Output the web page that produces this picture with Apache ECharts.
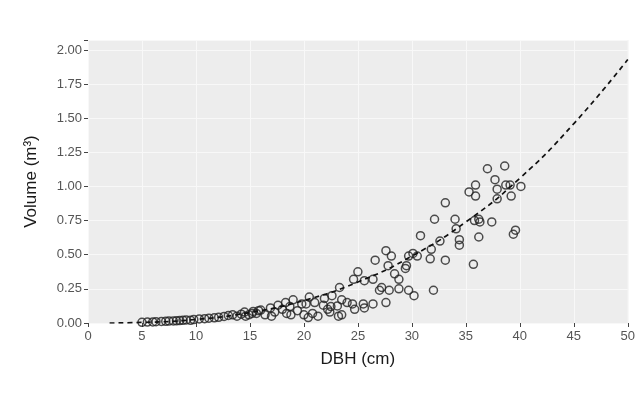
<!DOCTYPE html>
<html><head><meta charset="utf-8">
<script src="https://cdn.jsdelivr.net/npm/echarts@6/dist/echarts.min.js"></script>
<style>html,body{margin:0;padding:0;background:#fff}#c{width:638px;height:398px}</style>
</head><body><div id="c"></div>
<script>
// Observed trees: DBH (cm)
const treeDbh = [
 5.0,5.5,6.0,6.3,6.8,7.2,7.5,7.9,8.2,8.5,8.8,9.1,9.5,9.8,10.3,10.8,11.2,11.7,12.1,12.6,13.0,13.4,13.8,14.2,14.5,14.9,15.3,15.6,16.0,
 14.6,15.2,15.8,16.4,16.9,17.3,17.6,18.0,18.3,18.7,19.0,19.4,19.8,20.5,21.3,17.0,18.4,20.0,
 23.3,21.9,22.6,20.2,21.0,21.8,22.2,23.1,24.0,20.8,22.5,22.4,23.2,18.8,20.4,
 25.0,24.6,25.6,26.4,27.0,28.8,26.4,25.5,24.5,24.7,25.6,23.5,23.5,26.6,
 37.0,38.6,37.7,35.9,35.3,35.9,37.9,38.7,39.1,40.1,39.2,37.9,33.1,32.1,34.0,34.1,35.8,36.2,36.3,37.4,
 39.6,39.4,30.8,34.4,34.4,36.2,32.6,31.8,31.7,33.1,35.7,27.6,28.1,29.7,30.1,30.5,27.8,29.5,29.4,28.4,
 28.8,27.2,27.9,29.7,30.2,32.0,27.6
];
// Observed trees: volume (m3)
const treeVol = [
 0.005,0.007,0.008,0.010,0.011,0.012,0.014,0.015,0.016,0.018,0.020,0.022,0.020,0.025,0.030,0.032,0.035,0.038,0.042,0.048,0.055,0.060,0.050,0.065,0.080,0.060,0.085,0.070,0.095,
 0.05,0.07,0.09,0.06,0.11,0.08,0.13,0.10,0.15,0.12,0.17,0.09,0.14,0.19,0.05,0.05,0.07,0.06,
 0.26,0.18,0.20,0.14,0.15,0.13,0.10,0.125,0.15,0.07,0.12,0.08,0.05,0.06,0.04,
 0.375,0.32,0.31,0.32,0.24,0.25,0.14,0.14,0.14,0.10,0.11,0.17,0.06,0.46,
 1.13,1.15,1.05,1.01,0.96,0.93,0.98,1.01,1.01,1.00,0.93,0.91,0.88,0.76,0.76,0.69,0.75,0.76,0.74,0.74,
 0.68,0.65,0.64,0.61,0.57,0.63,0.60,0.54,0.47,0.46,0.43,0.53,0.49,0.49,0.51,0.49,0.42,0.42,0.40,0.36,
 0.32,0.26,0.24,0.24,0.20,0.24,0.15
];
// Fitted curve
const fitDbh = [2,5,10,15,20,25,30,35,40,45,50];
const fitVol = [0.0,0.004,0.026,0.077,0.165,0.30,0.49,0.74,1.06,1.46,1.93];
const yTicks = ['0.00','0.25','0.50','0.75','1.00','1.25','1.50','1.75','2.00'];

const chart = echarts.init(document.getElementById('c'));
const FONT = 'Liberation Sans, Arial, sans-serif';
chart.setOption({
  animation:false,
  backgroundColor:'#ffffff',
  grid:{left:88,right:8,top:40,bottom:75,show:true,backgroundColor:'#ededed',borderWidth:0},
  xAxis:{type:'value',min:0,max:50,interval:5,
    name:'DBH (cm)',nameLocation:'middle',nameGap:28,
    nameTextStyle:{fontFamily:FONT,fontSize:17,color:'#1a1a1a'},
    axisLine:{show:false},
    axisTick:{show:true,length:4,lineStyle:{color:'#444'}},
    axisLabel:{fontFamily:FONT,fontSize:13,color:'#555',margin:7},
    splitLine:{show:true,lineStyle:{color:'#f8f8f8',width:1}}},
  yAxis:{type:'value',min:0,max:2.073,interval:0.25,
    name:'Volume (m³)',nameLocation:'middle',nameGap:48,
    nameTextStyle:{fontFamily:FONT,fontSize:17,color:'#1a1a1a'},
    axisLine:{show:false},
    axisTick:{show:true,length:4,lineStyle:{color:'#444'}},
    axisLabel:{fontFamily:FONT,fontSize:13,color:'#555',margin:6,
      formatter:function(v){const i=Math.round(v/0.25);return Math.abs(v-i*0.25)<1e-6&&i<yTicks.length?yTicks[i]:'';}},
    splitLine:{show:true,lineStyle:{color:'#f8f8f8',width:1}}},
  series:[
    {type:'scatter',data:treeDbh.map((d,i)=>[d,treeVol[i]]),symbol:'circle',symbolSize:8,
     itemStyle:{color:'rgba(0,0,0,0)',borderColor:'#222',borderWidth:1.5},z:3},
    {type:'line',data:fitDbh.map((d,i)=>[d,fitVol[i]]),smooth:true,showSymbol:false,
     lineStyle:{color:'#111',width:1.7,type:[5,4]},z:4}
  ]
});
</script></body></html>
